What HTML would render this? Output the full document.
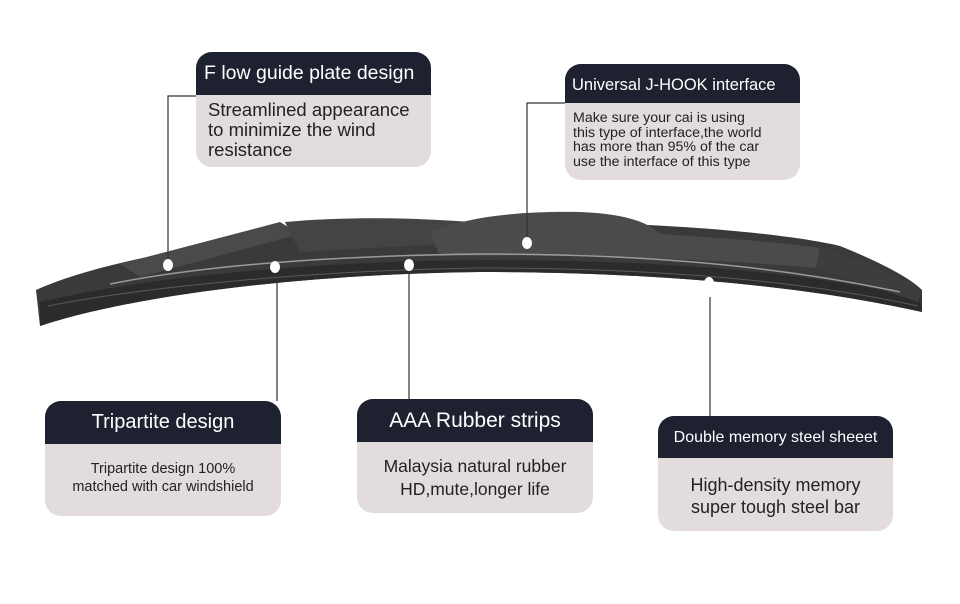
<!DOCTYPE html>
<html><head><style>
body{margin:0;width:960px;height:604px;background:#fff;position:relative;overflow:hidden;font-family:"Liberation Sans","DejaVu Sans",sans-serif}
.box{position:absolute;background:#e2dcdd;border-radius:16px;overflow:hidden}
.hd{background:#1d2130;color:#fff;white-space:nowrap}
.bd{color:#222;white-space:nowrap}
</style></head><body>
<svg width="960" height="604" style="position:absolute;left:0;top:0">
<path d="M36,290 C120,252 300,228 480,222 C640,220 780,232 840,246 C880,262 910,278 922,290 L922,312 C800,285 650,272 480,272 C300,274 130,296 40,326 Z" fill="#3a3a3b"/>
<path d="M40,302 C140,278 300,262 480,260 C650,260 800,270 920,298 L922,312 C800,285 650,272 480,272 C300,274 130,296 40,326 Z" fill="#2b2b2c"/>
<path d="M120,264 L280,222 L300,234 L140,277 Z" fill="#4a4a4c"/>
<path d="M285,222 C350,216 420,218 470,222 L478,242 L300,252 Z" fill="#444446"/>
<path d="M430,232 C470,216 520,211 580,212 C630,214 650,224 660,234 C720,238 780,242 820,248 L818,268 C720,260 600,254 440,256 Z" fill="#4b4b4d"/>
<path d="M820,246 C860,260 900,276 922,290 L918,302 L816,268 Z" fill="#3d3d3f"/>
<path d="M110,284 C200,266 320,256 480,254 C620,254 760,262 900,292" fill="none" stroke="#9a9a9a" stroke-width="1.5"/>
<path d="M48,306 C150,286 320,270 480,268 C650,268 800,280 918,306" fill="none" stroke="#5a5a5a" stroke-width="1"/>
<g stroke="#333" stroke-width="1.2" fill="none">
<polyline points="196,96 168,96 168,265"/>
<polyline points="565,103 527,103 527,243"/>
<line x1="277" y1="267" x2="277" y2="401"/>
<line x1="409" y1="265" x2="409" y2="399"/>
<line x1="710" y1="297" x2="710" y2="416"/>
</g>
<g fill="#fff">
<ellipse cx="168" cy="265" rx="5" ry="6"/>
<ellipse cx="275" cy="267" rx="5" ry="6"/>
<ellipse cx="409" cy="265" rx="5" ry="6"/>
<ellipse cx="527" cy="243" rx="5" ry="6"/>
<ellipse cx="709" cy="283" rx="5" ry="6"/>
</g>
</svg>

<div class="box" style="left:196px;top:52px;width:235px;height:115px">
<div class="hd" style="height:43px;line-height:43px;font-size:19.5px;padding-left:8px">F low guide plate design</div>
<div class="bd" style="font-size:18.5px;line-height:20px;padding:5px 0 0 12px">Streamlined appearance<br>to minimize the wind<br>resistance</div>
</div>
<div class="box" style="left:565px;top:64px;width:235px;height:116px">
<div class="hd" style="height:39px;line-height:42px;font-size:16.5px;padding-left:7px">Universal J-HOOK interface</div>
<div class="bd" style="font-size:14.2px;line-height:14.5px;padding:8px 0 0 8px">Make sure your cai is using<br>this type of interface,the world<br>has more than 95% of the car<br>use the interface of this type</div>
</div>
<div class="box" style="left:45px;top:401px;width:236px;height:115px">
<div class="hd" style="height:43px;line-height:43px;font-size:20px;text-align:center">Tripartite design</div>
<div class="bd" style="font-size:14.5px;line-height:18px;padding-top:16px;text-align:center">Tripartite design 100%<br>matched with car windshield</div>
</div>
<div class="box" style="left:357px;top:399px;width:236px;height:114px">
<div class="hd" style="height:43px;line-height:43px;font-size:21px;text-align:center">AAA Rubber strips</div>
<div class="bd" style="font-size:17.5px;line-height:23px;padding-top:13px;text-align:center">Malaysia natural rubber<br>HD,mute,longer life</div>
</div>
<div class="box" style="left:658px;top:416px;width:235px;height:115px">
<div class="hd" style="height:42px;line-height:44px;font-size:16px;text-align:center">Double memory steel sheeet</div>
<div class="bd" style="font-size:18px;line-height:22px;padding-top:16px;text-align:center">High-density memory<br>super tough steel bar</div>
</div>
</body></html>
